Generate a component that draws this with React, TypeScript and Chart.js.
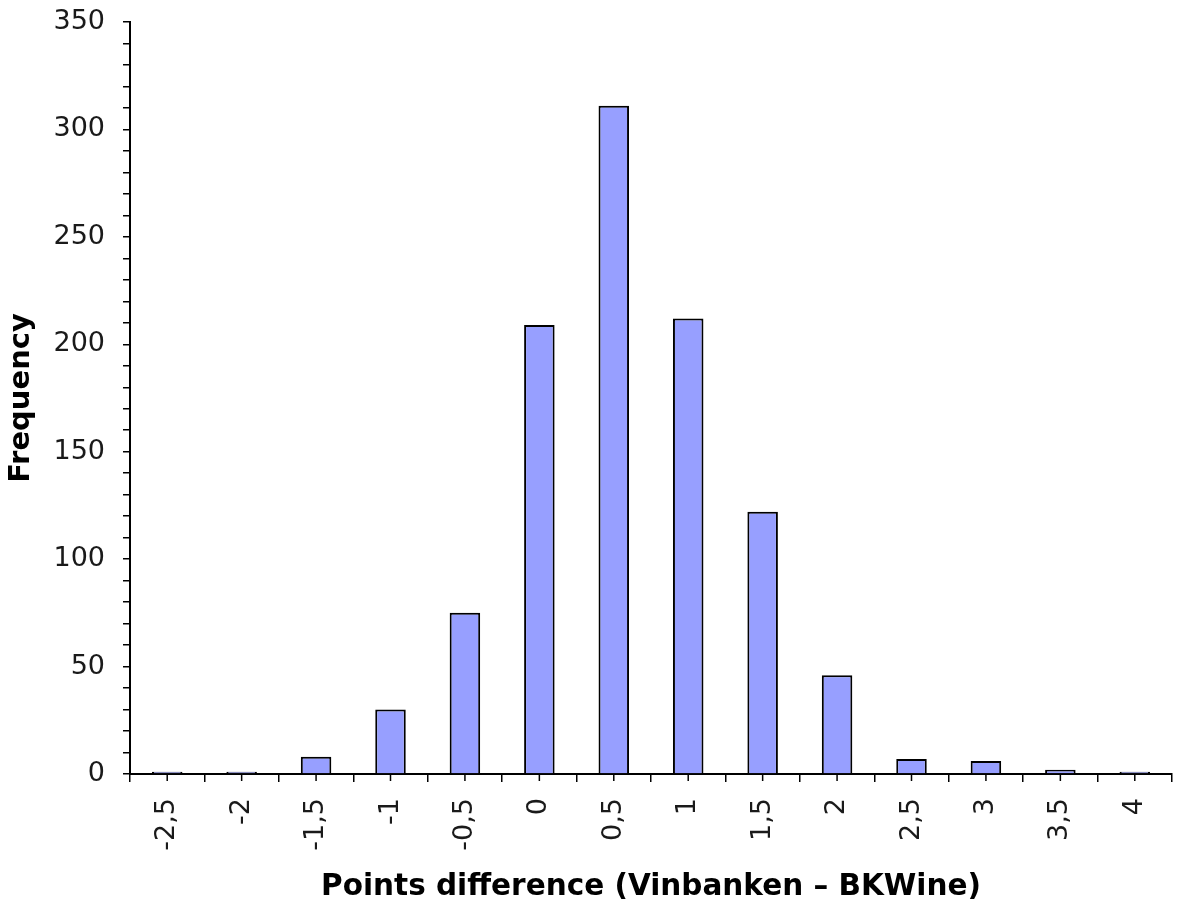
import React, { useEffect, useRef } from "react";
import { Chart, registerables } from "chart.js";

Chart.register(...registerables);

const categories: string[] = ["-2,5", "-2", "-1,5", "-1", "-0,5", "0", "0,5", "1", "1,5", "2", "2,5", "3", "3,5", "4"];
const frequencies: number[] = [1, 1, 8, 30, 75, 209, 311, 212, 122, 46, 7, 6, 2, 1];
const yMin = 0;
const yMax = 350;
const yMinorStep = 10;
const yMajorStep = 50;
const xTitle = "Points difference (Vinbanken \u2013 BKWine)";
const yTitle = "Frequency";

const centerTicks = {
  id: "centerTicks",
  afterDraw(chart: any) {
    const xs = chart.scales.x;
    const ctx = chart.ctx;
    ctx.save();
    ctx.strokeStyle = "#000";
    ctx.lineWidth = 1.5;
    for (let i = 0; i < categories.length; i++) {
      const px = xs.getPixelForValue(i);
      ctx.beginPath();
      ctx.moveTo(px, xs.top);
      ctx.lineTo(px, xs.top + 7);
      ctx.stroke();
    }
    ctx.restore();
  },
};

export default function App() {
  const ref = useRef<HTMLCanvasElement | null>(null);
  useEffect(() => {
    document.body.style.margin = "0";
    const canvas = ref.current!;
    const chart = new Chart(canvas, {
      type: "bar",
      data: {
        labels: categories,
        datasets: [
          {
            data: frequencies,
            backgroundColor: "#979fff",
            borderColor: "#000",
            borderWidth: 2,
            barPercentage: 0.41,
            categoryPercentage: 1,
          },
        ],
      },
      options: {
        animation: false,
        responsive: false,
        maintainAspectRatio: false,
        layout: { padding: { top: 22, right: 7, left: 0, bottom: 0 } },
        plugins: { legend: { display: false }, tooltip: { enabled: false } },
        scales: {
          x: {
            type: "category",
            offset: true,
            afterFit: (s: any) => {
              s.height = 143;
              s.paddingLeft = 0;
              s.paddingRight = 0;
            },
            grid: {
              display: true,
              drawOnChartArea: false,
              offset: true,
              tickLength: 8,
              color: "#000",
              lineWidth: 1.5,
            },
            border: { display: true, color: "#000", width: 2 },
            ticks: {
              minRotation: 90,
              maxRotation: 90,
              autoSkip: false,
              padding: 16,
              color: "#1a1a1a",
              font: { family: "DejaVu Sans", size: 27 },
            },
            title: {
              display: true,
              text: xTitle,
              color: "#000",
              font: { family: "DejaVu Sans", size: 29.5, weight: "bold" },
              padding: { top: 4, bottom: 12 },
            },
          },
          y: {
            min: yMin,
            max: yMax,
            afterFit: (s: any) => {
              s.width = 130;
              s.paddingTop = 0;
              s.paddingBottom = 0;
            },
            grid: {
              display: true,
              drawOnChartArea: false,
              tickLength: 7,
              color: "#000",
              lineWidth: 1.5,
            },
            border: { display: true, color: "#000", width: 2 },
            ticks: {
              stepSize: yMinorStep,
              autoSkip: false,
              padding: 18,
              color: "#1a1a1a",
              font: { family: "DejaVu Sans", size: 27 },
              callback: (v: any) => (Number(v) % yMajorStep === 0 ? String(v) : ""),
            },
            title: {
              display: true,
              text: yTitle,
              color: "#000",
              font: { family: "DejaVu Sans", size: 29, weight: "bold" },
              padding: { top: 4, bottom: 4 },
            },
          },
        },
      },
      plugins: [centerTicks],
    });
    return () => chart.destroy();
  }, []);
  return (
    <div style={{ width: 1179, height: 917, background: "#fff" }}>
      <canvas ref={ref} width={1179} height={917} style={{ display: "block" }} />
    </div>
  );
}
